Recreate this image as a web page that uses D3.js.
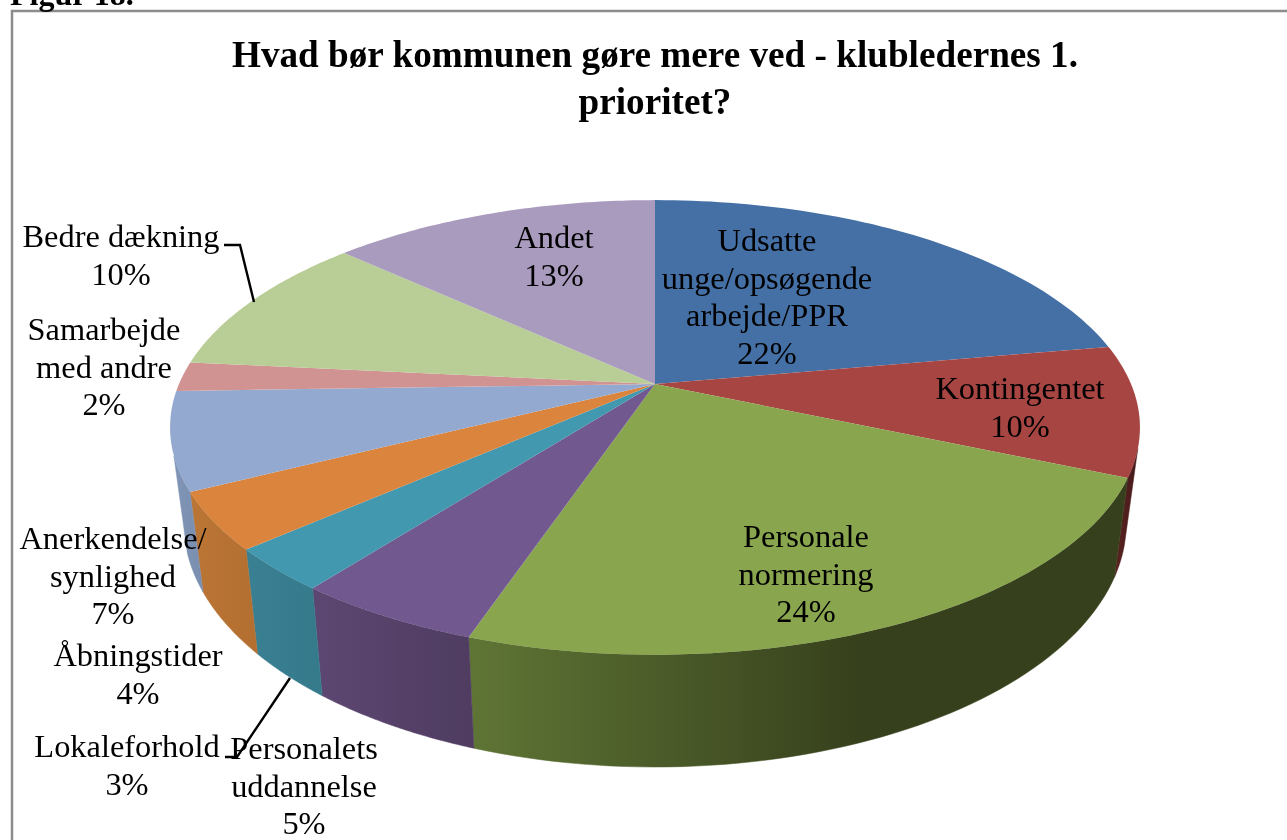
<!DOCTYPE html>
<html><head><meta charset="utf-8">
<script src="https://cdn.jsdelivr.net/npm/d3@7"></script>
<style>html,body{margin:0;background:#fff;overflow:hidden}svg{display:block;filter:blur(0.45px)}
text{font-family:"Liberation Serif",serif;fill:#000}</style></head><body>
<svg id="c" width="1287" height="840"></svg>
<script>
const categories=["Udsatte unge/opsøgende arbejde/PPR","Kontingentet","Personale normering","Personalets uddannelse","Lokaleforhold","Åbningstider","Anerkendelse/ synlighed","Samarbejde med andre","Bedre dækning","Andet"];
const values=[22.2,9.3,23.7,5.26,3.06,4.05,6.94,2.1,10.2,13.2];
const percentLabels=["22%","10%","24%","5%","3%","4%","7%","2%","10%","13%"];
const labelLines=[["Udsatte","unge/opsøgende","arbejde/PPR"],["Kontingentet"],["Personale","normering"],["Personalets","uddannelse"],["Lokaleforhold"],["Åbningstider"],["Anerkendelse/","synlighed"],["Samarbejde","med andre"],["Bedre dækning"],["Andet"]];
const topColors=["#4570A6","#A74543","#89A54E","#71588F","#4198AF","#DB843D","#93A9CF","#D19392","#B9CD96","#A99BBD"];
const wallStops=[["#3a5e8c","#3a5e8c"],["#5a2220","#451b1a"],["#5f7535","#36401c"],["#5c4772","#4f3c60"],["#3a8093","#357a8b"],["#bb7636","#b36f30"],["#8094b6","#7a8eb0"],["#a87","#a87"],["#8a9a70","#8a9a70"],["#807590","#807590"]];
const labelAnchors=[[767,251],[1020,399],[806,547],[304,759],[127,757],[138,666],[113,549],[104,340],[121,247],[554,248]];
const titleLines=["Hvad bør kommunen gøre mere ved - klubledernes 1.","prioritet?"];
const svg=d3.select("#c");
const defs=svg.append("defs");
const CX=655,CY=384,A=476,B=219,P=0.191,TAU=Math.PI*2;
// perspective projection of the unit disc onto the page
const proj=t=>{const u=Math.sin(t),v=Math.cos(t),w=1+P*v;return [CX+A*u/w,CY-B*v/w];};
const low=([x,y])=>[CX+(x-CX)*0.972,476+(y-CY)*1.075];
const line=d3.line();
const arcs=d3.pie().sort(null).value(d=>d)(values);
const sample=(a,b)=>d3.range(0,61).map(i=>a+(b-a)*i/60);
// frame
svg.append("rect").attr("x",12).attr("y",11).attr("width",1300).attr("height",900).attr("fill","#fff").attr("stroke","#8c8c8c").attr("stroke-width",2.5);
svg.append("text").attr("x",10).attr("y",5).attr("font-size",32).attr("font-weight","bold").text("Figur 18.");
svg.selectAll(".t").data(titleLines).join("text").attr("x",655).attr("y",(d,i)=>66.5+i*47).attr("text-anchor","middle").attr("font-weight","bold").attr("font-size",37.2).text(d=>d);
// walls
const f0=TAU*0.295,f1=TAU*0.70;
arcs.forEach((d,i)=>{
  const a=Math.max(d.startAngle,f0),b=Math.min(d.endAngle,f1);
  if(b<=a)return;
  const top=sample(a,b).map(proj),bot=top.map(low).reverse();
  const xs=top.concat(bot).map(p=>p[0]);
  const g=defs.append("linearGradient").attr("id","w"+i).attr("gradientUnits","userSpaceOnUse").attr("x1",d3.min(xs)).attr("x2",d3.max(xs)).attr("y1",0).attr("y2",0);
  const c=wallStops[i];
  if(i===2){
    g.append("stop").attr("offset",0).attr("stop-color",c[0]);
    g.append("stop").attr("offset",0.6).attr("stop-color",c[1]);
    g.append("stop").attr("offset",1).attr("stop-color",c[1]);
  } else {
    g.append("stop").attr("offset",0).attr("stop-color",c[0]);
    g.append("stop").attr("offset",1).attr("stop-color",c[1]);
  }
  svg.append("path").attr("d",line(top.concat(bot))+"Z").attr("fill",`url(#w${i})`).attr("stroke",`url(#w${i})`).attr("stroke-width",0.5);
});
// top faces
svg.selectAll(".s").data(arcs).join("path").attr("fill",(d,i)=>topColors[i])
 .attr("d",d=>line([[CX,CY],...sample(d.startAngle,d.endAngle).map(proj)])+"Z");
// leader lines
const leaders=[[[224,245],[240,245],[254,302]],[[225,757],[237,757],[290,678]]];
svg.selectAll(".l").data(leaders).join("path").attr("fill","none").attr("stroke","#000").attr("stroke-width",2.4).attr("d",d=>line(d));
// labels
categories.forEach((c,i)=>{
  const rows=labelLines[i].concat(percentLabels[i]);
  const t=svg.append("text").attr("text-anchor","middle").attr("font-size",32.4);
  rows.forEach((r,j)=>t.append("tspan").attr("x",labelAnchors[i][0]).attr("y",labelAnchors[i][1]+j*37.5).text(r));
});
</script></body></html>
